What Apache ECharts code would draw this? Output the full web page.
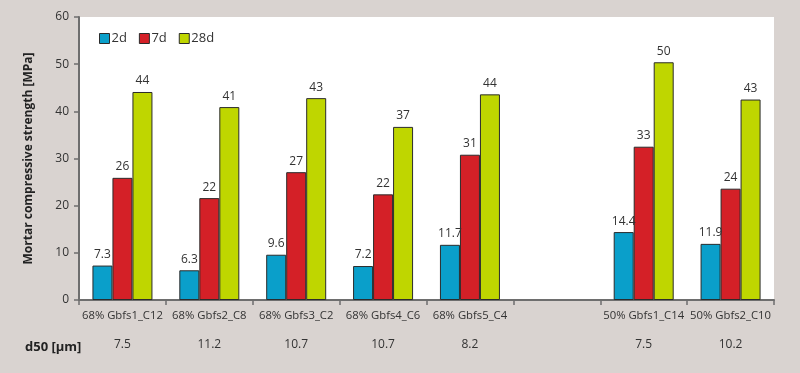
<!DOCTYPE html>
<html><head><meta charset="utf-8">
<script src="https://cdn.jsdelivr.net/npm/echarts@6/dist/echarts.min.js"></script>
<style>html,body{margin:0;padding:0;background:#d9d3d0}#c{width:800px;height:373px}</style>
</head><body><div id="c"></div>
<script>
const categories = ['68% Gbfs1_C12','68% Gbfs2_C8','68% Gbfs3_C2','68% Gbfs4_C6','68% Gbfs5_C4','','50% Gbfs1_C14','50% Gbfs2_C10'];
const d50 = ['7.5','11.2','10.7','10.7','8.2','','7.5','10.2'];
const s2d = [7.3, 6.3, 9.6, 7.2, 11.7, null, 14.4, 11.9];
const s7d = [25.9, 21.6, 27.1, 22.4, 30.8, null, 32.5, 23.6];
const s28d = [44.1, 40.9, 42.8, 36.7, 43.6, null, 50.4, 42.5];
const yTicks = [0, 10, 20, 30, 40, 50, 60];

const font = 'Open Sans';
const chart = echarts.init(document.getElementById('c'));
function mk(name, data, color, dec) {
  return {
    name, type: 'bar', data, barWidth: 20, barGap: '0%',
    itemStyle: {color, borderColor: '#2b2b2b', borderWidth: 1},
    label: {show: true, position: 'top', distance: 5, fontFamily: font, fontSize: 12, color: '#333',
      formatter: p => p.value == null ? '' : (dec ? p.value.toFixed(1) : Math.round(p.value).toString())}
  };
}
chart.setOption({
  backgroundColor: '#d9d3d0',
  animation: false,
  textStyle: {fontFamily: font},
  grid: {left: 79, right: 26, top: 17, bottom: 73, show: true, backgroundColor: '#ffffff', borderWidth: 0},
  legend: {left: 94, top: 27, itemWidth: 10, itemHeight: 10, itemGap: 12, icon: 'rect',
    textStyle: {fontFamily: font, fontSize: 13, color: '#333', padding: [0,0,0,-3]},
    itemStyle: {borderColor: '#2b2b2b', borderWidth: 1},
    data: ['2d','7d','28d']},
  title: {text: 'd50 [µm]', left: 20, top: 336, textStyle: {fontFamily: font, fontSize: 13, fontWeight: 'bold', color: '#222'}},
  xAxis: [{
    type: 'category', data: categories, position: 'bottom',
    axisLine: {lineStyle: {color: '#6e6e6e', width: 2}},
    axisTick: {show: true, length: 5, lineStyle: {color: '#6e6e6e', width: 1.5}},
    axisLabel: {fontFamily: font, fontSize: 11.3, color: '#333', margin: 10, interval: 0}
  }, {
    type: 'category', data: d50, position: 'bottom', offset: 39,
    axisLine: {show: false}, axisTick: {show: false},
    axisLabel: {fontFamily: font, fontSize: 12, color: '#333', interval: 0, margin: 0}
  }],
  yAxis: {
    type: 'value', min: yTicks[0], max: yTicks[yTicks.length-1], interval: 10,
    name: 'Mortar compressive strength [MPa]', nameLocation: 'middle', nameGap: 44,
    nameTextStyle: {fontFamily: font, fontSize: 12, fontWeight: 'bold', color: '#222'},
    axisLine: {show: true, lineStyle: {color: '#6e6e6e', width: 2}},
    axisTick: {show: true, length: 5, lineStyle: {color: '#6e6e6e', width: 1.5}},
    splitLine: {show: false},
    axisLabel: {fontFamily: font, fontSize: 12, color: '#333', margin: 10}
  },
  series: [mk('2d', s2d, '#0a9fca', true), mk('7d', s7d, '#d42027', false), mk('28d', s28d, '#bfd600', false)]
});
</script></body></html>
